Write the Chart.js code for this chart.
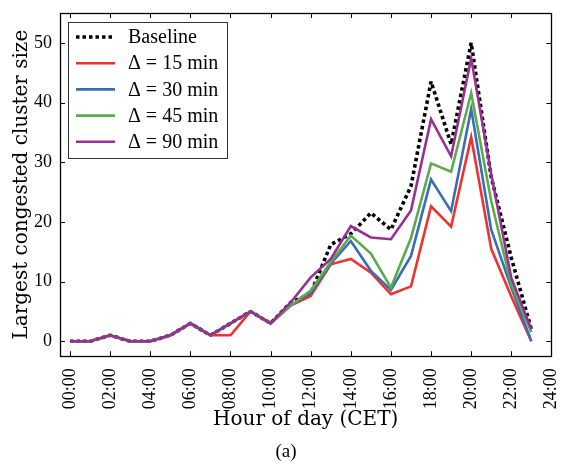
<!DOCTYPE html>
<html>
<head>
<meta charset="utf-8">
<script src="https://cdn.jsdelivr.net/npm/chart.js@4/dist/chart.umd.min.js"></script>
<style>
  html, body { margin: 0; padding: 0; background: #fff; }
  #wrap { width: 577px; height: 466px; }
</style>
</head>
<body>
<div id="wrap"><canvas id="chart" width="577" height="466"></canvas></div>
<script>
// values
var hours = [0, 1, 2, 3, 4, 5, 6, 7, 8, 9, 10, 11, 12, 13, 14, 15, 16, 17, 18, 19, 20, 21, 22, 23];
var baseline = [0, 0, 1, 0, 0, 1, 3, 1, 3, 5, 3, 6.5, 8, 16.2, 18, 21.5, 18.7, 26, 43.5, 33, 50, 27.5, 14, 2];
var delta15 = [0, 0, 1, 0, 0, 1, 3, 1, 1, 5, 3, 6, 7.6, 12.9, 13.8, 11.5, 7.9, 9.2, 22.6, 19.2, 34.2, 15.5, 7.5, 0];
var delta30 = [0, 0, 1, 0, 0, 1, 3, 1, 3, 5, 3, 6, 8.1, 13, 16.8, 11.8, 8.6, 14.3, 27.1, 21.8, 38.9, 18.7, 9, 0];
var delta45 = [0, 0, 1, 0, 0, 1, 3, 1, 3, 5, 3, 6, 8.5, 13.3, 17.7, 14.7, 9, 17.3, 29.8, 28.4, 41.6, 23.5, 9.5, 1.5];
var delta90 = [0, 0, 1, 0, 0, 1, 3, 1, 3, 5, 3, 6.5, 10.7, 13.8, 19.3, 17.4, 17.1, 21.9, 37.2, 31, 47.4, 28, 10.6, 2];
var seriesLabels = ['Baseline', '\u0394 = 15 min', '\u0394 = 30 min', '\u0394 = 45 min', '\u0394 = 90 min'];
var xTicks = [0, 2, 4, 6, 8, 10, 12, 14, 16, 18, 20, 22, 24];
var yTicks = [0, 10, 20, 30, 40, 50];

var SERIF = '"Liberation Serif", "DejaVu Serif", serif';
var WIDE_SERIF = '"DejaVu Serif", serif';

function pts(arr) {
  return hours.map(function (h, i) { return { x: h, y: arr[i] }; });
}

function line(label, arr, color, order, dash) {
  return {
    label: label,
    data: pts(arr),
    borderColor: color,
    backgroundColor: color,
    borderWidth: dash ? 3.6 : 2.6,
    borderDash: dash || [],
    borderCapStyle: 'butt',
    borderJoinStyle: dash ? 'bevel' : 'miter',
    pointRadius: 0,
    tension: 0,
    fill: false,
    order: order
  };
}

// frame, inward ticks on all four sides, and the boxed legend
var framePlugin = {
  id: 'frame',
  afterDraw: function (chart) {
    var ctx = chart.ctx;
    var a = chart.chartArea;
    var xs = chart.scales.x, ys = chart.scales.y;
    ctx.save();
    ctx.strokeStyle = '#000';
    ctx.lineWidth = 1;
    ctx.beginPath();
    xTicks.forEach(function (v) {
      var px = Math.round(xs.getPixelForValue(v)) + 0.5;
      ctx.moveTo(px, a.bottom); ctx.lineTo(px, a.bottom - 5);
      ctx.moveTo(px, a.top); ctx.lineTo(px, a.top + 5);
    });
    yTicks.forEach(function (v) {
      var py = Math.round(ys.getPixelForValue(v)) + 0.5;
      ctx.moveTo(a.left, py); ctx.lineTo(a.left + 5, py);
      ctx.moveTo(a.right, py); ctx.lineTo(a.right - 5, py);
    });
    ctx.stroke();
    ctx.lineWidth = 1.3;
    ctx.strokeRect(Math.round(a.left) + 0.5, Math.round(a.top) + 0.5,
      Math.round(a.right - a.left), Math.round(a.bottom - a.top));

    // legend
    var bx = 68.5, by = 22.5, bw = 159, bh = 136;
    ctx.fillStyle = '#fff';
    ctx.fillRect(bx, by, bw, bh);
    ctx.strokeStyle = '#333';
    ctx.lineWidth = 1;
    ctx.strokeRect(bx, by, bw, bh);
    ctx.font = '20px ' + SERIF;
    ctx.textBaseline = 'middle';
    ctx.textAlign = 'left';
    chart.data.datasets.forEach(function (ds, i) {
      var y = 37 + i * 26.2;
      ctx.strokeStyle = ds.borderColor;
      ctx.lineWidth = ds.borderWidth;
      ctx.setLineDash(ds.borderDash);
      ctx.lineCap = 'butt';
      ctx.beginPath();
      ctx.moveTo(76, y); ctx.lineTo(115, y);
      ctx.stroke();
      ctx.setLineDash([]);
      ctx.fillStyle = '#000';
      ctx.fillText(ds.label, 128, y + 1);
    });
    ctx.restore();
  }
};

new Chart(document.getElementById('chart'), {
  type: 'line',
  data: {
    datasets: [
      line(seriesLabels[0], baseline, '#000000', 4, [3.5, 3]),
      line(seriesLabels[1], delta15, '#ee3232', 3),
      line(seriesLabels[2], delta30, '#3a6db3', 2),
      line(seriesLabels[3], delta45, '#5bab4e', 1),
      line(seriesLabels[4], delta90, '#982f95', 0)
    ]
  },
  options: {
    responsive: false,
    animation: false,
    layout: { padding: { top: 13, right: 5, left: 0, bottom: 0 } },
    plugins: {
      legend: { display: false },
      tooltip: { enabled: false },
      title: {
        display: true,
        position: 'bottom',
        text: '(a)',
        color: '#000',
        font: { family: SERIF, size: 19, weight: 'normal' },
        padding: { top: 8, bottom: 3 }
      }
    },
    scales: {
      x: {
        type: 'linear',
        min: -0.5,
        max: 24,
        grid: { display: false },
        border: { display: false },
        afterBuildTicks: function (scale) {
          scale.ticks = xTicks.map(function (v) { return { value: v }; });
        },
        afterFit: function (scale) { scale.height = 76; },
        ticks: {
          autoSkip: false,
          minRotation: 90,
          maxRotation: 90,
          padding: 4,
          color: '#000',
          font: { family: SERIF, size: 18 },
          callback: function (v) { return (v < 10 ? '0' : '') + v + ':00'; }
        },
        title: {
          display: true,
          text: 'Hour of day (CET)',
          color: '#000',
          font: { family: WIDE_SERIF, size: 20 },
          padding: { top: 0, bottom: 0 }
        }
      },
      y: {
        min: -2.5,
        max: 55,
        grid: { display: false },
        border: { display: false },
        afterBuildTicks: function (scale) {
          scale.ticks = yTicks.map(function (v) { return { value: v }; });
        },
        afterFit: function (scale) { scale.width = 60; },
        ticks: {
          padding: 0,
          color: '#000',
          font: { family: SERIF, size: 18 }
        },
        title: {
          display: true,
          text: 'Largest congested cluster size',
          color: '#000',
          font: { family: WIDE_SERIF, size: 20 },
          padding: { top: 10, bottom: 0 }
        }
      }
    }
  },
  plugins: [framePlugin]
});
</script>
</body>
</html>
